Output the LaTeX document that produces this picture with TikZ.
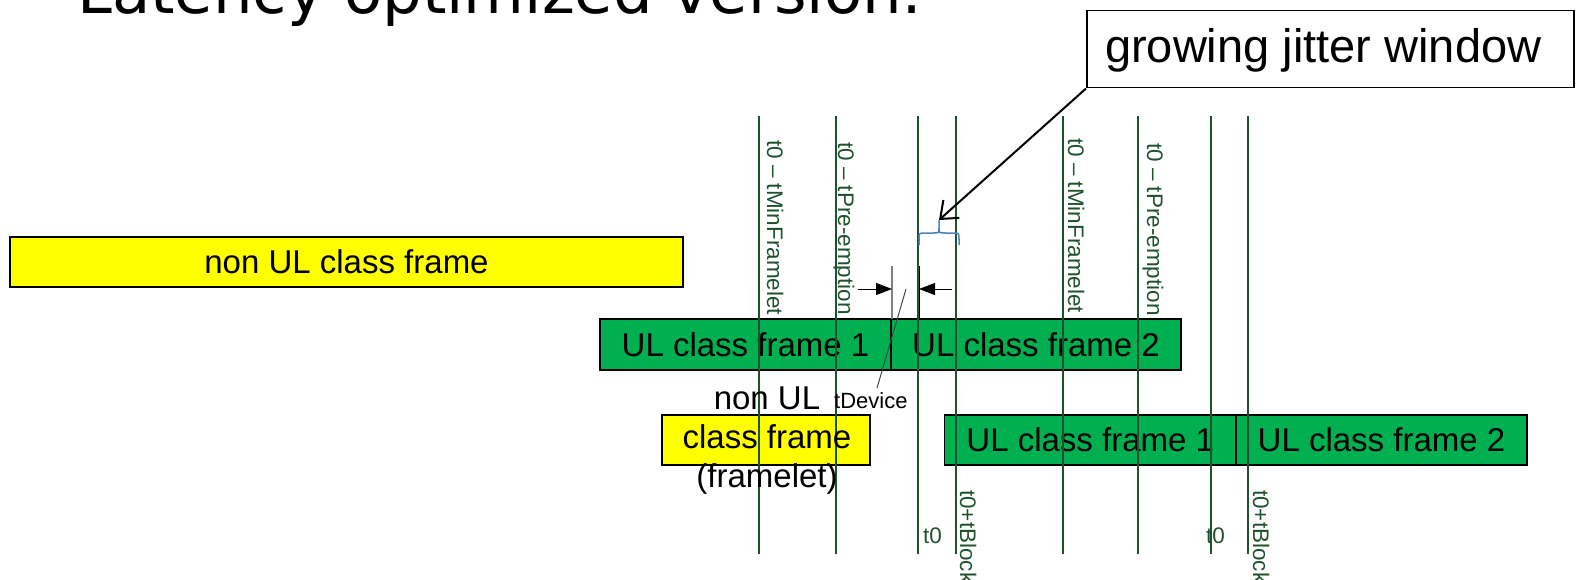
\documentclass[tikz,border=0pt]{standalone}
\usepackage{fontspec}
\setmainfont{Liberation Sans}
\newfontfamily\titlefont{DejaVu Sans}
\usetikzlibrary{arrows.meta}
\definecolor{guidegreen}{RGB}{30,82,45}
\definecolor{ulgreen}{RGB}{0,176,80}
\definecolor{braceblue}{RGB}{79,129,189}
\definecolor{leadgray}{RGB}{70,70,70}
\definecolor{pureyellow}{RGB}{255,255,0}
\begin{document}
\begin{tikzpicture}[x=1pt,y=-1pt,
  framebox/.style={draw=black, line width=1.5pt, inner sep=0pt, minimum height=50pt, font=\fontsize{33}{39}\selectfont},
  nonul/.style={framebox, fill=pureyellow},
  ulbox/.style={framebox, fill=ulgreen},
  guide/.style={draw=guidegreen, line width=1.2pt},
  vlabel/.style={rotate=-90, anchor=base west, inner sep=0pt, text=guidegreen, font=\fontsize{22.5}{26}\selectfont},
  hlabel/.style={anchor=base west, inner sep=0pt, text=guidegreen, font=\fontsize{22.5}{26}\selectfont},
  dimarrow/.style={draw=black, line width=1pt, -{Triangle[length=16pt,width=12pt]}},
]
\useasboundingbox (0,0) rectangle (1576,580);
\clip (0,0) rectangle (1576,580);

% title (cut off at the top)
\node[anchor=base west, inner sep=0pt, font=\titlefont\fontsize{62.5}{70}\selectfont] (title) at (77,14) {Latency optimized version:};

% frames
\node[nonul, minimum width=673pt] (nonul) at (346.5,262) {non UL class frame};
\node[ulbox, minimum width=291pt, minimum height=51pt] (ulAone) at (745.5,344.5) {UL class frame 1};
\node[ulbox, minimum width=290pt, minimum height=51pt] (ulAtwo) at (1036,344.5) {UL class frame 2};
\node[nonul, minimum width=208pt] (flet) at (766,440) {};
\node[ulbox, minimum width=291.5pt] (ulBone) at (1090.25,440) {UL class frame 1};
\node[ulbox, minimum width=291pt] (ulBtwo) at (1381.5,440) {UL class frame 2};

% guide lines
\foreach \gx in {759,836,918,956,1063,1138,1211,1248}
  \draw[guide] (\gx,116) -- (\gx,554);

% framelet text
\node[inner sep=0pt, align=center, font=\fontsize{33}{39}\selectfont] (fletxt) at (767,441) {non UL\\class frame\\(framelet)};

% guide labels
\node[vlabel] (lA) at (767,140) {t0 – tMinFramelet};
\node[vlabel] (lB) at (838,142) {t0 – tPre-emption};
\node[vlabel] (lC) at (1068,138) {t0 – tMinFramelet};
\node[vlabel] (lD) at (1147,143) {t0 – tPre-emption};
\node[hlabel] (lE) at (923,543) {t0};
\node[hlabel] (lF) at (1206,543) {t0};
\node[vlabel] (lG) at (960,490) {t0+tBlock};
\node[vlabel] (lH) at (1253,490) {t0+tBlock};

% tDevice dimension
\coordinate (devL) at (892,289);
\coordinate (devR) at (919,289);
\coordinate (devA) at (858,289);
\coordinate (devB) at (952,289);
\draw[gray, line width=1.2pt] (892,266) -- (892,319);
\draw[black, line width=1pt] (919,266) -- (919,319);
\draw[dimarrow] (devA) -- (devL);
\draw[dimarrow] (devB) -- (devR);
\node[anchor=base west, inner sep=0pt, font=\fontsize{22}{25}\selectfont] (tdev) at (834,408) {tDevice};
\coordinate (leadtop) at (906,289);
\coordinate (leadbot) at (877,388);
\draw[leadgray, line width=1pt] (leadtop) -- (leadbot);

% brace
\coordinate (bracetip) at (939,220);
\draw[braceblue, line width=1.5pt] (919,245) -- (919,239) .. controls (919,233) .. (925,233) -- (933,233) .. controls (939,233) .. (939,228) -- (bracetip) -- (939,228) .. controls (939,233) .. (945,233) -- (953,233) .. controls (959,233) .. (959,239) -- (959,245);

% callout
\node[draw=black, line width=1.5pt, fill=white, minimum width=487pt, minimum height=77pt, inner sep=0pt, text height=37pt, text depth=10pt, anchor=north west, font=\fontsize{47}{52}\selectfont] (jit) at (1086,10) {growing jitter window\hspace*{14pt}};
\draw[line width=2pt, -{Straight Barb[length=15pt, width=24pt]}] (jit.south west) -- (bracetip);
\end{tikzpicture}
\end{document}
